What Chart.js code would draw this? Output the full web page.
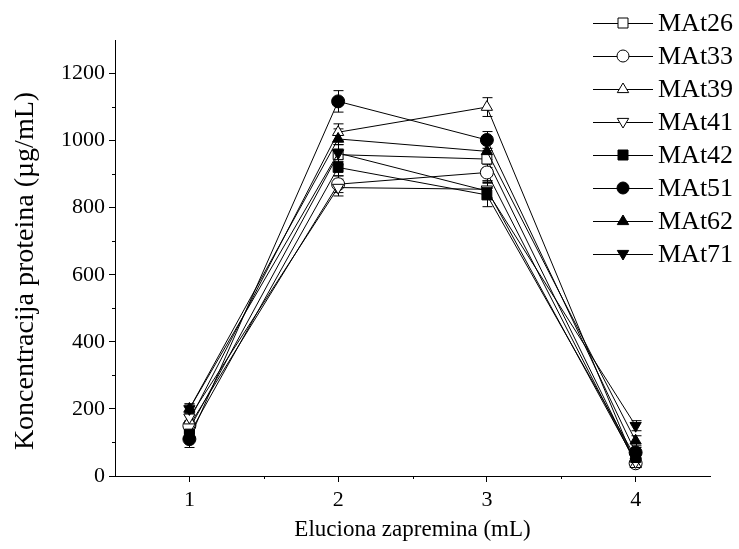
<!DOCTYPE html>
<html lang="sr">
<head>
<meta charset="UTF-8">
<title>Koncentracija proteina</title>
<style>
  html, body { margin: 0; padding: 0; background: #fff; }
  #wrap { width: 739px; height: 549px; }
</style>
</head>
<body>
<div id="wrap"><canvas id="myChart"></canvas></div>
<script src="https://cdn.jsdelivr.net/npm/chart.js"></script>
<script>
// eluciona zapremina (mL)
const xValues = [1, 2, 3, 4];
const xTicks = [1, 2, 3, 4];
const yTicks = [0, 200, 400, 600, 800, 1000, 1200];

const names = ['MAt26', 'MAt33', 'MAt39', 'MAt41', 'MAt42', 'MAt51', 'MAt62', 'MAt71'];

// koncentracija (ug/mL)
const mat26 = [140, 958, 945, 40];
const mat33 = [150, 870, 905, 38];
const mat39 = [165, 1025, 1100, 35];
const mat41 = [175, 860, 855, 42];
const mat42 = [125, 920, 838, 55];
const mat51 = [110, 1117, 1002, 70];
const mat62 = [200, 1005, 968, 105];
const mat71 = [200, 963, 850, 150];

// greske (+/-)
const err26 = [15, 30, 25, 10];
const err33 = [15, 25, 25, 10];
const err39 = [15, 25, 28, 10];
const err41 = [15, 25, 25, 10];
const err42 = [15, 25, 35, 10];
const err51 = [25, 32, 25, 15];
const err62 = [15, 30, 25, 15];
const err71 = [15, 25, 25, 15];

const allData = [mat26, mat33, mat39, mat41, mat42, mat51, mat62, mat71];
const allErr = [err26, err33, err39, err41, err42, err51, err62, err71];

// oznake: oblik, rotacija, pun ili prazan
const markers = [
    {style: 'rect', rot: 0, fill: '#fff'},
    {style: 'circle', rot: 0, fill: '#fff'},
    {style: 'triangle', rot: 0, fill: '#fff'},
    {style: 'triangle', rot: 180, fill: '#fff'},
    {style: 'rect', rot: 0, fill: '#000'},
    {style: 'circle', rot: 0, fill: '#000'},
    {style: 'triangle', rot: 0, fill: '#000'},
    {style: 'triangle', rot: 180, fill: '#000'}
];

const FONT = "'Liberation Serif', 'DejaVu Serif', serif";
const Y_TITLE = 'Koncentracija proteina (µg/mL)';

let v_datasets = [];
for (let i = 0; i < names.length; i++) {
    v_datasets.push({
        label: names[i],
        data: xValues.map((x, j) => ({x: x, y: allData[i][j]})),
        err: allErr[i],
        order: names.length - i, // kasnije serije idu preko
        borderColor: '#000',
        borderWidth: 1,
        pointStyle: markers[i].style,
        pointRotation: markers[i].rot,
        pointRadius: markers[i].style == 'rect' ? 7 : 6.5,
        pointBackgroundColor: markers[i].fill,
        pointBorderColor: '#000',
        pointBorderWidth: 1,
        tension: 0
    });
}

// error bars ispod tacaka
const errorBars = {
    id: 'errorBars',
    beforeDatasetsDraw(chart) {
        const ctx = chart.ctx;
        const xs = chart.scales.x, ys = chart.scales.y;
        ctx.save();
        ctx.strokeStyle = '#000';
        ctx.lineWidth = 1;
        chart.data.datasets.forEach(ds => {
            ds.data.forEach((p, j) => {
                const px = Math.round(xs.getPixelForValue(p.x)) + 0.5;
                const top = ys.getPixelForValue(p.y + ds.err[j]);
                const bot = ys.getPixelForValue(p.y - ds.err[j]);
                ctx.beginPath();
                ctx.moveTo(px, top); ctx.lineTo(px, bot);
                ctx.moveTo(px - 5, top); ctx.lineTo(px + 5, top);
                ctx.moveTo(px - 5, bot); ctx.lineTo(px + 5, bot);
                ctx.stroke();
            });
        });
        ctx.restore();
    }
};

// manji podeoci + naslov y ose
const minorTicks = {
    id: 'minorTicks',
    afterDraw(chart) {
        const ctx = chart.ctx;
        const xs = chart.scales.x, ys = chart.scales.y;
        ctx.save();
        ctx.strokeStyle = '#000';
        ctx.lineWidth = 1;
        ctx.beginPath();
        [1.5, 2.5, 3.5].forEach(v => {
            const px = Math.round(xs.getPixelForValue(v)) + 0.5;
            ctx.moveTo(px, xs.top); ctx.lineTo(px, xs.top + 3);
        });
        [100, 300, 500, 700, 900, 1100].forEach(v => {
            const py = Math.round(ys.getPixelForValue(v)) + 0.5;
            ctx.moveTo(ys.right, py); ctx.lineTo(ys.right - 3, py);
        });
        ctx.stroke();

        ctx.translate(26, 271);
        ctx.rotate(-Math.PI / 2);
        ctx.font = '28px ' + FONT;
        ctx.fillStyle = '#000';
        ctx.textAlign = 'center';
        ctx.textBaseline = 'middle';
        ctx.fillText(Y_TITLE, 0, 0);
        ctx.restore();
    }
};

function drawMarker(ctx, style, rot, x, y, r) {
    ctx.beginPath();
    if (style == 'rect') {
        ctx.rect(x - r, y - r, 2 * r, 2 * r);
    } else if (style == 'circle') {
        ctx.arc(x, y, r, 0, Math.PI * 2);
    } else {
        const s = rot == 180 ? -1 : 1;
        ctx.moveTo(x, y - s * r);
        ctx.lineTo(x + r * 0.95, y + s * r * 0.6);
        ctx.lineTo(x - r * 0.95, y + s * r * 0.6);
        ctx.closePath();
    }
    ctx.fill();
    ctx.stroke();
}

// legenda desno gore
const sideLegend = {
    id: 'sideLegend',
    afterDraw(chart) {
        const ctx = chart.ctx;
        ctx.save();
        ctx.font = '26px ' + FONT;
        ctx.textBaseline = 'middle';
        ctx.textAlign = 'left';
        chart.data.datasets.forEach((ds, i) => {
            const y = 23 + i * 33;
            ctx.strokeStyle = '#000';
            ctx.lineWidth = 1;
            ctx.beginPath();
            ctx.moveTo(593, y + 0.5); ctx.lineTo(653, y + 0.5);
            ctx.stroke();
            ctx.fillStyle = markers[i].fill;
            drawMarker(ctx, markers[i].style, markers[i].rot, 623, y, markers[i].style == 'rect' ? 5 : 6);
            ctx.fillStyle = '#000';
            ctx.fillText(ds.label, 658, y + 1);
        });
        ctx.restore();
    }
};

const ctx = document.getElementById('myChart');

new Chart(ctx, {
    type: 'line',
    data: { datasets: v_datasets },
    plugins: [errorBars, minorTicks, sideLegend],
    options: {
        responsive: true,
        maintainAspectRatio: false,
        animation: false,
        devicePixelRatio: 1,
        layout: { padding: { top: 40, right: 29, left: 0, bottom: 0 } },
        plugins: {
            legend: { display: false },
            tooltip: { enabled: false }
        },
        scales: {
            x: {
                type: 'linear',
                min: 0.5,
                max: 4.5,
                afterBuildTicks: s => { s.ticks = xTicks.map(v => ({value: v})); },
                afterFit: s => { s.height = 73; },
                border: { display: true, color: '#000', width: 1 },
                grid: { display: true, drawOnChartArea: false, drawTicks: true, tickLength: 6, color: '#000' },
                ticks: { color: '#000', font: { family: FONT, size: 22 }, padding: 5, maxRotation: 0,
                         callback: v => String(v) },
                title: {
                    display: true,
                    text: 'Eluciona zapremina (mL)',
                    color: '#000',
                    font: { family: FONT, size: 23 },
                    padding: { top: 0, bottom: 5 }
                }
            },
            y: {
                min: 0,
                max: 1300,
                afterBuildTicks: s => { s.ticks = yTicks.map(v => ({value: v})); },
                afterFit: s => { s.width = 115; },
                border: { display: true, color: '#000', width: 1 },
                grid: { display: true, drawOnChartArea: false, drawTicks: true, tickLength: 6, color: '#000' },
                ticks: { color: '#000', font: { family: FONT, size: 22 }, padding: 4,
                         callback: v => String(v) },
                title: { display: false }
            }
        }
    }
});
</script>
</body>
</html>
